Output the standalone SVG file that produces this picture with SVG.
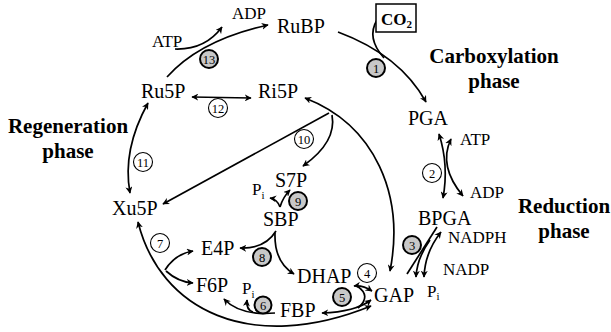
<svg xmlns="http://www.w3.org/2000/svg" width="611" height="332" viewBox="0 0 611 332" font-family="Liberation Serif, Times New Roman, serif">
<defs>
<marker id="ah" viewBox="0 0 10 10" refX="9" refY="5" markerWidth="7" markerHeight="7" markerUnits="userSpaceOnUse" orient="auto-start-reverse">
<path d="M0,0 L10,5 L0,10 L3,5 Z" fill="#000"/>
</marker>
<style>
.m{font-size:20px;fill:#000}
.s{font-size:17px;fill:#000}
.b{font-size:21px;font-weight:bold;fill:#000}
.n{font-size:12.5px;fill:#000;text-anchor:middle}
.g{fill:#c8c8c8;stroke:#000;stroke-width:2}
.w{fill:#fff;stroke:#000;stroke-width:1.1}
.c path,.c line{fill:none;stroke:#000;stroke-width:1.7}
.e{marker-end:url(#ah)}
.d{marker-start:url(#ah);marker-end:url(#ah)}
</style>
</defs>
<rect width="611" height="332" fill="#fff"/>
<g id="connectors" class="c">
<path class="e" d="M167,77 Q200,40 268,25"/>
<path class="e" d="M175,49 Q205,50 222,27"/>
<path class="e" d="M338,32 Q400,55 426,102"/>
<path d="M377,20 Q366,38 384,58"/>
<path class="d" d="M439,134 Q449,165 443,198"/>
<path class="d" d="M451,139 Q438,166 463,196"/>
<path d="M437,227 L407,274"/>
<path class="d" d="M441,232 Q425,252 424,277"/>
<path class="e" d="M430,240 Q417,258 416,277"/>
<path class="d" d="M305,98 C375,125 405,195 390,271"/>
<path class="e" d="M329,113 L163,204"/>
<path class="e" d="M332,115 Q337,142 303,166"/>
<path class="d" d="M192,97 L251,98"/>
<path class="d" d="M148,103 Q122,150 130,193"/>
<path class="d" d="M138,222 C160,310 250,355 371,306"/>
<path class="e" d="M165,270 Q175,254 193,251"/>
<path class="e" d="M166,271 Q178,282 193,283"/>
<path class="e" d="M276,231 Q265,249 240,248"/>
<path class="e" d="M275,233 Q274,262 294,274"/>
<path class="e" d="M275,313 Q240,316 224,299"/>
<path class="e" d="M253,312 Q246,310 247,300"/>
<path class="e" d="M280,207 Q277,199 270,198"/>
<path class="e" d="M280,207 Q283,197 290,190"/>
<path class="d" d="M354,286 Q363,285 372,291"/>
<path d="M357,286 Q372,296 358,308"/>
<path class="d" d="M322,313 Q355,312 371,300"/>
</g>
<g id="RuBP"><text class="m" x="277" y="33">RuBP</text></g>
<g id="ADP1"><text class="s" x="232" y="19">ADP</text></g>
<g id="ATP1"><text class="s" x="152" y="47">ATP</text></g>
<g id="CO2"><rect x="376" y="4" width="40" height="28" fill="#fff" stroke="#000" stroke-width="1.5"/><text class="s" x="381" y="25" font-weight="bold">CO<tspan font-size="11" dy="3">2</tspan></text></g>
<g id="carbox"><text class="b" x="494" y="63" text-anchor="middle">Carboxylation</text><text class="b" x="494" y="88" text-anchor="middle">phase</text></g>
<g id="PGA"><text class="m" x="408" y="125">PGA</text></g>
<g id="ATP2"><text class="s" x="460" y="145">ATP</text></g>
<g id="ADP2"><text class="s" x="470" y="198">ADP</text></g>
<g id="BPGA"><text class="m" x="418" y="225">BPGA</text></g>
<g id="reduction"><text class="b" x="564" y="213" text-anchor="middle">Reduction</text><text class="b" x="564" y="238" text-anchor="middle">phase</text></g>
<g id="NADPH"><text class="s" x="448" y="243">NADPH</text></g>
<g id="NADP"><text class="s" x="443" y="275">NADP</text></g>
<g id="Pi1"><text class="s" x="427" y="297">P<tspan font-size="11" dy="3">i</tspan></text></g>
<g id="GAP"><text class="m" x="374" y="302">GAP</text></g>
<g id="DHAP"><text class="m" x="297" y="283">DHAP</text></g>
<g id="FBP"><text class="m" x="280" y="317">FBP</text></g>
<g id="Pi2"><text class="s" x="242" y="294">P<tspan font-size="11" dy="4">i</tspan></text></g>
<g id="F6P"><text class="m" x="196" y="292">F6P</text></g>
<g id="E4P"><text class="m" x="201" y="255">E4P</text></g>
<g id="SBP"><text class="m" x="263" y="226">SBP</text></g>
<g id="S7P"><text class="m" x="275" y="187">S7P</text></g>
<g id="Pi3"><text class="s" x="252" y="195">P<tspan font-size="11" dy="4">i</tspan></text></g>
<g id="Xu5P"><text class="m" x="112" y="215">Xu5P</text></g>
<g id="Ru5P"><text class="m" x="141" y="98">Ru5P</text></g>
<g id="Ri5P"><text class="m" x="258" y="98">Ri5P</text></g>
<g id="regen"><text class="b" x="68" y="133" text-anchor="middle">Regeneration</text><text class="b" x="68" y="158" text-anchor="middle">phase</text></g>
<g id="e1"><circle class="g" cx="376" cy="68" r="9"/><text class="n" x="376" y="72.5">1</text></g>
<g id="e2"><circle class="w" cx="432" cy="173" r="9.5"/><text class="n" x="432" y="177.5">2</text></g>
<g id="e3"><circle class="g" cx="412" cy="245" r="9"/><text class="n" x="412" y="249.5">3</text></g>
<g id="e4"><circle class="w" cx="367" cy="273" r="9.5"/><text class="n" x="367" y="277.5">4</text></g>
<g id="e5"><circle class="g" cx="342" cy="297" r="9"/><text class="n" x="342" y="301.5">5</text></g>
<g id="e6"><circle class="g" cx="263" cy="305" r="8.5"/><text class="n" x="263" y="309.5">6</text></g>
<g id="e7"><circle class="w" cx="160" cy="243" r="9.5"/><text class="n" x="160" y="247.5">7</text></g>
<g id="e8"><circle class="g" cx="262" cy="257" r="9"/><text class="n" x="262" y="261.5">8</text></g>
<g id="e9"><circle class="g" cx="298" cy="201" r="9"/><text class="n" x="298" y="205.5">9</text></g>
<g id="e10"><circle class="w" cx="304" cy="139" r="9.5"/><text class="n" x="304" y="143.5">10</text></g>
<g id="e11"><circle class="w" cx="143" cy="162" r="9.5"/><text class="n" x="143" y="166.5">11</text></g>
<g id="e12"><circle class="w" cx="218" cy="108" r="9.5"/><text class="n" x="218" y="112.5">12</text></g>
<g id="e13"><circle class="g" cx="209" cy="59" r="9"/><text class="n" x="209" y="63.5">13</text></g>
</svg>
